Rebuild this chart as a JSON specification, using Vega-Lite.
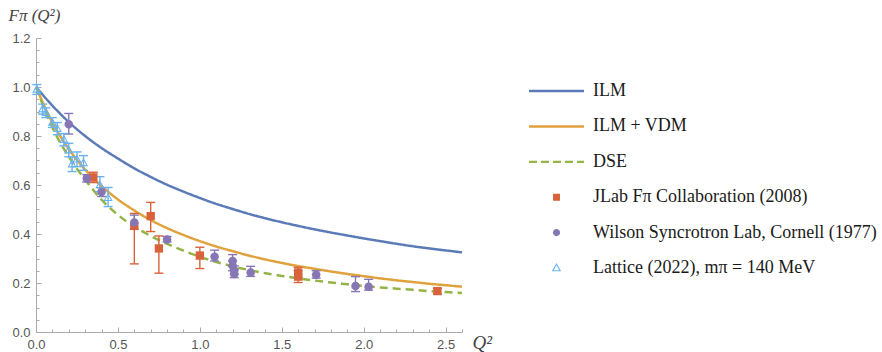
{
  "$schema": "https://vega.github.io/schema/vega-lite/v6.json",
  "width": 426,
  "height": 294,
  "autosize": "none",
  "padding": {"left": 36, "top": 38, "right": 420, "bottom": 20},
  "background": "white",
  "config": {
    "view": {"stroke": null},
    "axis": {"grid": false},
    "legend": {"labelFont": "Liberation Serif", "labelFontSize": 18, "labelColor": "#1a1a1a"}
  },
  "datasets": {
    "curves": [
      {"series": "ILM", "Q2": 0.0, "F": 1.0},
      {"series": "ILM", "Q2": 0.1, "F": 0.924},
      {"series": "ILM", "Q2": 0.2, "F": 0.857},
      {"series": "ILM", "Q2": 0.3, "F": 0.8},
      {"series": "ILM", "Q2": 0.4, "F": 0.751},
      {"series": "ILM", "Q2": 0.5, "F": 0.708},
      {"series": "ILM", "Q2": 0.6, "F": 0.668},
      {"series": "ILM", "Q2": 0.7, "F": 0.633},
      {"series": "ILM", "Q2": 0.8, "F": 0.601},
      {"series": "ILM", "Q2": 0.9, "F": 0.573},
      {"series": "ILM", "Q2": 1.0, "F": 0.547},
      {"series": "ILM", "Q2": 1.1, "F": 0.523},
      {"series": "ILM", "Q2": 1.2, "F": 0.502},
      {"series": "ILM", "Q2": 1.3, "F": 0.482},
      {"series": "ILM", "Q2": 1.4, "F": 0.464},
      {"series": "ILM", "Q2": 1.5, "F": 0.448},
      {"series": "ILM", "Q2": 1.6, "F": 0.433},
      {"series": "ILM", "Q2": 1.7, "F": 0.419},
      {"series": "ILM", "Q2": 1.8, "F": 0.406},
      {"series": "ILM", "Q2": 1.9, "F": 0.394},
      {"series": "ILM", "Q2": 2.0, "F": 0.382},
      {"series": "ILM", "Q2": 2.1, "F": 0.371},
      {"series": "ILM", "Q2": 2.2, "F": 0.36},
      {"series": "ILM", "Q2": 2.3, "F": 0.35},
      {"series": "ILM", "Q2": 2.4, "F": 0.341},
      {"series": "ILM", "Q2": 2.5, "F": 0.333},
      {"series": "ILM", "Q2": 2.6, "F": 0.325},
      {"series": "ILM + VDM", "Q2": 0.0, "F": 1.0},
      {"series": "ILM + VDM", "Q2": 0.1, "F": 0.855},
      {"series": "ILM + VDM", "Q2": 0.2, "F": 0.747},
      {"series": "ILM + VDM", "Q2": 0.3, "F": 0.663},
      {"series": "ILM + VDM", "Q2": 0.4, "F": 0.596},
      {"series": "ILM + VDM", "Q2": 0.5, "F": 0.541},
      {"series": "ILM + VDM", "Q2": 0.6, "F": 0.496},
      {"series": "ILM + VDM", "Q2": 0.7, "F": 0.457},
      {"series": "ILM + VDM", "Q2": 0.8, "F": 0.424},
      {"series": "ILM + VDM", "Q2": 0.9, "F": 0.396},
      {"series": "ILM + VDM", "Q2": 1.0, "F": 0.371},
      {"series": "ILM + VDM", "Q2": 1.1, "F": 0.349},
      {"series": "ILM + VDM", "Q2": 1.2, "F": 0.33},
      {"series": "ILM + VDM", "Q2": 1.3, "F": 0.312},
      {"series": "ILM + VDM", "Q2": 1.4, "F": 0.296},
      {"series": "ILM + VDM", "Q2": 1.5, "F": 0.282},
      {"series": "ILM + VDM", "Q2": 1.6, "F": 0.269},
      {"series": "ILM + VDM", "Q2": 1.7, "F": 0.258},
      {"series": "ILM + VDM", "Q2": 1.8, "F": 0.247},
      {"series": "ILM + VDM", "Q2": 1.9, "F": 0.237},
      {"series": "ILM + VDM", "Q2": 2.0, "F": 0.228},
      {"series": "ILM + VDM", "Q2": 2.1, "F": 0.219},
      {"series": "ILM + VDM", "Q2": 2.2, "F": 0.211},
      {"series": "ILM + VDM", "Q2": 2.3, "F": 0.204},
      {"series": "ILM + VDM", "Q2": 2.4, "F": 0.197},
      {"series": "ILM + VDM", "Q2": 2.5, "F": 0.191},
      {"series": "ILM + VDM", "Q2": 2.6, "F": 0.185},
      {"series": "DSE", "Q2": 0.0, "F": 1.0},
      {"series": "DSE", "Q2": 0.1, "F": 0.835},
      {"series": "DSE", "Q2": 0.2, "F": 0.715},
      {"series": "DSE", "Q2": 0.3, "F": 0.622},
      {"series": "DSE", "Q2": 0.4, "F": 0.54},
      {"series": "DSE", "Q2": 0.5, "F": 0.478},
      {"series": "DSE", "Q2": 0.6, "F": 0.43},
      {"series": "DSE", "Q2": 0.7, "F": 0.392},
      {"series": "DSE", "Q2": 0.8, "F": 0.36},
      {"series": "DSE", "Q2": 0.9, "F": 0.332},
      {"series": "DSE", "Q2": 1.0, "F": 0.307},
      {"series": "DSE", "Q2": 1.1, "F": 0.286},
      {"series": "DSE", "Q2": 1.2, "F": 0.268},
      {"series": "DSE", "Q2": 1.3, "F": 0.253},
      {"series": "DSE", "Q2": 1.4, "F": 0.24},
      {"series": "DSE", "Q2": 1.5, "F": 0.229},
      {"series": "DSE", "Q2": 1.6, "F": 0.219},
      {"series": "DSE", "Q2": 1.7, "F": 0.21},
      {"series": "DSE", "Q2": 1.8, "F": 0.202},
      {"series": "DSE", "Q2": 1.9, "F": 0.195},
      {"series": "DSE", "Q2": 2.0, "F": 0.188},
      {"series": "DSE", "Q2": 2.1, "F": 0.182},
      {"series": "DSE", "Q2": 2.2, "F": 0.177},
      {"series": "DSE", "Q2": 2.3, "F": 0.172},
      {"series": "DSE", "Q2": 2.4, "F": 0.167},
      {"series": "DSE", "Q2": 2.5, "F": 0.163},
      {"series": "DSE", "Q2": 2.6, "F": 0.159}
    ],
    "points": [
      {"series": "JLab Fπ Collaboration (2008)", "Q2": 0.35, "F": 0.631, "lo": 0.61, "hi": 0.652},
      {"series": "JLab Fπ Collaboration (2008)", "Q2": 0.6, "F": 0.433, "lo": 0.278, "hi": 0.484},
      {"series": "JLab Fπ Collaboration (2008)", "Q2": 0.7, "F": 0.473, "lo": 0.41, "hi": 0.529},
      {"series": "JLab Fπ Collaboration (2008)", "Q2": 0.75, "F": 0.341, "lo": 0.24, "hi": 0.392},
      {"series": "JLab Fπ Collaboration (2008)", "Q2": 1.0, "F": 0.312, "lo": 0.259, "hi": 0.346},
      {"series": "JLab Fπ Collaboration (2008)", "Q2": 1.6, "F": 0.243, "lo": 0.223, "hi": 0.264},
      {"series": "JLab Fπ Collaboration (2008)", "Q2": 1.6, "F": 0.226, "lo": 0.202, "hi": 0.25},
      {"series": "JLab Fπ Collaboration (2008)", "Q2": 2.45, "F": 0.167, "lo": 0.155, "hi": 0.178},
      {"series": "Wilson Syncrotron Lab, Cornell (1977)", "Q2": 0.2, "F": 0.848, "lo": 0.808, "hi": 0.892},
      {"series": "Wilson Syncrotron Lab, Cornell (1977)", "Q2": 0.31, "F": 0.627, "lo": 0.612, "hi": 0.642},
      {"series": "Wilson Syncrotron Lab, Cornell (1977)", "Q2": 0.4, "F": 0.571, "lo": 0.553, "hi": 0.589},
      {"series": "Wilson Syncrotron Lab, Cornell (1977)", "Q2": 0.6, "F": 0.447, "lo": 0.42, "hi": 0.477},
      {"series": "Wilson Syncrotron Lab, Cornell (1977)", "Q2": 0.8, "F": 0.378, "lo": 0.368, "hi": 0.39},
      {"series": "Wilson Syncrotron Lab, Cornell (1977)", "Q2": 1.09, "F": 0.307, "lo": 0.29, "hi": 0.334},
      {"series": "Wilson Syncrotron Lab, Cornell (1977)", "Q2": 1.2, "F": 0.29, "lo": 0.27, "hi": 0.316},
      {"series": "Wilson Syncrotron Lab, Cornell (1977)", "Q2": 1.2, "F": 0.27, "lo": 0.25, "hi": 0.29},
      {"series": "Wilson Syncrotron Lab, Cornell (1977)", "Q2": 1.21, "F": 0.252, "lo": 0.235, "hi": 0.27},
      {"series": "Wilson Syncrotron Lab, Cornell (1977)", "Q2": 1.21, "F": 0.237, "lo": 0.222, "hi": 0.255},
      {"series": "Wilson Syncrotron Lab, Cornell (1977)", "Q2": 1.31, "F": 0.243, "lo": 0.227, "hi": 0.268},
      {"series": "Wilson Syncrotron Lab, Cornell (1977)", "Q2": 1.71, "F": 0.234, "lo": 0.22, "hi": 0.25},
      {"series": "Wilson Syncrotron Lab, Cornell (1977)", "Q2": 1.95, "F": 0.188, "lo": 0.165, "hi": 0.226},
      {"series": "Wilson Syncrotron Lab, Cornell (1977)", "Q2": 2.03, "F": 0.185, "lo": 0.171, "hi": 0.215},
      {"series": "Lattice (2022), mπ = 140 MeV", "Q2": 0.005, "F": 0.99, "lo": 0.97, "hi": 1.01},
      {"series": "Lattice (2022), mπ = 140 MeV", "Q2": 0.04, "F": 0.91, "lo": 0.89, "hi": 0.93},
      {"series": "Lattice (2022), mπ = 140 MeV", "Q2": 0.06, "F": 0.895, "lo": 0.875, "hi": 0.915},
      {"series": "Lattice (2022), mπ = 140 MeV", "Q2": 0.1, "F": 0.855, "lo": 0.835, "hi": 0.875},
      {"series": "Lattice (2022), mπ = 140 MeV", "Q2": 0.13, "F": 0.83, "lo": 0.805, "hi": 0.855},
      {"series": "Lattice (2022), mπ = 140 MeV", "Q2": 0.17, "F": 0.785, "lo": 0.76, "hi": 0.81},
      {"series": "Lattice (2022), mπ = 140 MeV", "Q2": 0.2, "F": 0.742, "lo": 0.715, "hi": 0.77},
      {"series": "Lattice (2022), mπ = 140 MeV", "Q2": 0.22, "F": 0.685, "lo": 0.655, "hi": 0.715},
      {"series": "Lattice (2022), mπ = 140 MeV", "Q2": 0.25, "F": 0.705, "lo": 0.675, "hi": 0.735},
      {"series": "Lattice (2022), mπ = 140 MeV", "Q2": 0.29, "F": 0.69, "lo": 0.66, "hi": 0.72},
      {"series": "Lattice (2022), mπ = 140 MeV", "Q2": 0.39, "F": 0.6, "lo": 0.573, "hi": 0.634},
      {"series": "Lattice (2022), mπ = 140 MeV", "Q2": 0.44, "F": 0.548, "lo": 0.512, "hi": 0.59}
    ]
  },
  "layer": [
    {
      "layer": [
        {
          "data": {"name": "curves"},
          "mark": {"type": "line", "strokeWidth": 2.5, "interpolate": "monotone"},
          "encoding": {
            "x": {
              "field": "Q2", "type": "quantitative",
              "scale": {"domain": [0, 2.6], "nice": false, "zero": false},
              "axis": {
                "values": [0, 0.5, 1, 1.5, 2, 2.5], "format": ".1f",
                "tickSize": -5, "tickColor": "#aaaaaa", "domainColor": "#aaaaaa",
                "labelColor": "#555555", "labelFont": "Liberation Sans", "labelFontSize": 13,
                "labelPadding": 11, "labelFlush": false, "labelOverlap": false,
                "title": "Q²", "titleFont": "Liberation Serif", "titleFontStyle": "italic",
                "titleFontWeight": "normal", "titleFontSize": 19, "titleColor": "#444444",
                "titleX": 436, "titleY": 16, "titleAlign": "left", "titleBaseline": "alphabetic"
              }
            },
            "y": {
              "field": "F", "type": "quantitative",
              "scale": {"domain": [0, 1.2], "nice": false},
              "axis": {
                "values": [0, 0.2, 0.4, 0.6, 0.8, 1.0, 1.2], "format": ".1f",
                "tickSize": -5, "tickColor": "#aaaaaa", "domainColor": "#aaaaaa",
                "labelColor": "#555555", "labelFont": "Liberation Sans", "labelFontSize": 13,
                "labelPadding": 11, "labelFlush": false, "labelOverlap": false,
                "title": "Fπ (Q²)", "titleFont": "Liberation Serif", "titleFontStyle": "italic",
                "titleFontWeight": "normal", "titleFontSize": 17, "titleColor": "#444444",
                "titleAngle": 0, "titleX": -28, "titleY": -18, "titleAlign": "left", "titleBaseline": "alphabetic"
              }
            },
            "color": {
              "field": "series", "type": "nominal",
              "scale": {
                "domain": ["ILM", "ILM + VDM", "DSE", "JLab Fπ Collaboration (2008)", "Wilson Syncrotron Lab, Cornell (1977)", "Lattice (2022), mπ = 140 MeV"],
                "range": ["#5b7bb8", "#e0a23c", "#95b446", "#d8633b", "#8677b4", "#68b2ef"]
              },
              "legend": {
                "title": null, "orient": "none", "legendX": 493, "legendY": 43, "padding": 0,
                "symbolSize": 3025, "symbolStrokeWidth": 0, "symbolOpacity": 1, "clipHeight": 20, "rowPadding": 15.4,
                "labelOffset": 9, "labelFont": "Liberation Serif", "labelFontSize": 18,
                "labelColor": "#1a1a1a", "labelLimit": 400
              }
            },
            "strokeDash": {"condition": {"test": "datum.series === 'DSE'", "value": [8, 5]}, "value": [1, 0]}
          }
        },
        {
          "data": {"name": "points"},
          "mark": {"type": "rule", "strokeWidth": 1.4, "opacity": 1},
          "encoding": {
            "x": {"field": "Q2", "type": "quantitative"},
            "y": {"field": "lo", "type": "quantitative"},
            "y2": {"field": "hi"},
            "color": {"condition": [{"test": "datum.series === 'JLab Fπ Collaboration (2008)'", "value": "#d8633b"}, {"test": "datum.series === 'Wilson Syncrotron Lab, Cornell (1977)'", "value": "#8677b4"}], "value": "#68b2ef"}
          }
        },
        {
          "data": {"name": "points"},
          "mark": {"type": "tick", "orient": "horizontal", "size": 9, "thickness": 1.4, "opacity": 1},
          "encoding": {
            "x": {"field": "Q2", "type": "quantitative"},
            "y": {"field": "lo", "type": "quantitative"},
            "color": {"condition": [{"test": "datum.series === 'JLab Fπ Collaboration (2008)'", "value": "#d8633b"}, {"test": "datum.series === 'Wilson Syncrotron Lab, Cornell (1977)'", "value": "#8677b4"}], "value": "#68b2ef"}
          }
        },
        {
          "data": {"name": "points"},
          "mark": {"type": "tick", "orient": "horizontal", "size": 9, "thickness": 1.4, "opacity": 1},
          "encoding": {
            "x": {"field": "Q2", "type": "quantitative"},
            "y": {"field": "hi", "type": "quantitative"},
            "color": {"condition": [{"test": "datum.series === 'JLab Fπ Collaboration (2008)'", "value": "#d8633b"}, {"test": "datum.series === 'Wilson Syncrotron Lab, Cornell (1977)'", "value": "#8677b4"}], "value": "#68b2ef"}
          }
        },
        {
          "data": {"name": "points"},
          "transform": [{"filter": "datum.series !== 'Lattice (2022), mπ = 140 MeV'"}],
          "mark": {"type": "point", "filled": true, "opacity": 1, "size": 4300},
          "encoding": {
            "x": {"field": "Q2", "type": "quantitative"},
            "y": {"field": "F", "type": "quantitative"},
            "color": {"field": "series", "type": "nominal"},
            "shape": {
              "field": "series", "type": "nominal",
              "scale": {
                "domain": ["ILM", "ILM + VDM", "DSE", "JLab Fπ Collaboration (2008)", "Wilson Syncrotron Lab, Cornell (1977)", "Lattice (2022), mπ = 140 MeV"],
                "range": [
                  "M-1,-0.046H1V0.046H-1Z",
                  "M-1,-0.046H1V0.046H-1Z",
                  "M-1,-0.04H-0.709V0.04H-1Z M-0.564,-0.04H-0.273V0.04H-0.564Z M-0.127,-0.04H0.164V0.04H-0.127Z M0.309,-0.04H0.6V0.04H0.309Z M0.745,-0.04H1V0.04H0.745Z",
                  "M-0.127,-0.127L0.127,-0.127L0.127,0.127L-0.127,0.127Z",
                  "M0.13,0A0.13,0.13,0,1,1,-0.13,0A0.13,0.13,0,1,1,0.13,0Z",
                  "M0,-0.18L0.17,0.12L-0.17,0.12Z M0,-0.1L-0.102,0.08L0.102,0.08Z"
                ]
              }
            }
          }
        }
      ]
    },
    {
      "data": {"name": "points"},
      "transform": [{"filter": "datum.series === 'Lattice (2022), mπ = 140 MeV'"}],
      "mark": {"type": "point", "filled": true, "opacity": 1, "size": 2900},
      "encoding": {
        "x": {
          "field": "Q2", "type": "quantitative",
          "scale": {"domain": [0, 2.6], "nice": false, "zero": false},
          "axis": {
            "orient": "bottom",
            "values": [0.1, 0.2, 0.3, 0.4, 0.6, 0.7, 0.8, 0.9, 1.1, 1.2, 1.3, 1.4, 1.6, 1.7, 1.8, 1.9, 2.1, 2.2, 2.3, 2.4, 2.6],
            "labels": false, "domain": false, "tickSize": -3, "tickColor": "#aaaaaa", "title": null
          }
        },
        "y": {
          "field": "F", "type": "quantitative",
          "scale": {"domain": [0, 1.2], "nice": false},
          "axis": {
            "orient": "left",
            "values": [0.05, 0.1, 0.15, 0.25, 0.3, 0.35, 0.45, 0.5, 0.55, 0.65, 0.7, 0.75, 0.85, 0.9, 0.95, 1.05, 1.1, 1.15],
            "labels": false, "domain": false, "tickSize": -3, "tickColor": "#aaaaaa", "title": null
          }
        },
        "color": {"field": "series", "type": "nominal"},
        "shape": {"field": "series", "type": "nominal"}
      }
    }
  ],
  "resolve": {"axis": {"x": "independent", "y": "independent"}}
}
